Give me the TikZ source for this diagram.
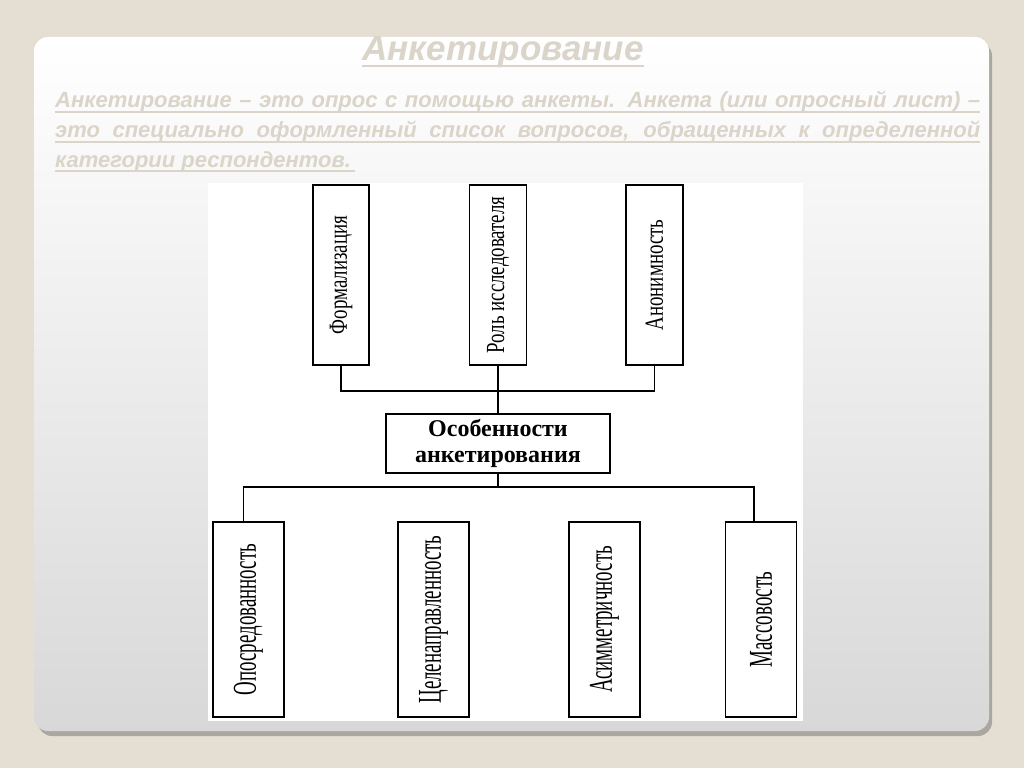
\documentclass[tikz,border=0pt]{standalone}
\usepackage{fontspec}
\setmainfont{Liberation Serif}
\newfontfamily\headfont{Liberation Sans}
\usetikzlibrary{calc}
\definecolor{bg}{HTML}{E5DED3}
\definecolor{panelshadow}{HTML}{A9A79F}
\definecolor{panelbot}{HTML}{D8D8D8}
\definecolor{panelmid}{HTML}{EFEFEF}
\definecolor{ghost}{HTML}{DAD4C9}
\tikzset{
  box/.style={draw=black, line width=1.3pt, fill=white, inner sep=0pt, font=\fontsize{18}{18}\selectfont},
  conn/.style={draw=black, line width=1.3pt},
  ul/.style={draw=ghost, line width=2pt},
}
\newcommand{\vlab}[2]{\rotatebox{90}{\scalebox{1.05}[#1]{#2}}}
\begin{document}
\begin{tikzpicture}[x=1pt,y=-1pt]
\useasboundingbox (0,0) rectangle (1024,768);
\fill[bg] (0,0) rectangle (1024,768);
\fill[panelshadow, rounded corners=14pt] (38,42) rectangle (992,736);
\shade[rounded corners=14pt, top color=white, middle color=panelmid, bottom color=panelbot] (34,37) rectangle (989,731);

% title
\node[anchor=base, inner sep=0pt, text=ghost, font=\headfont\bfseries\itshape\fontsize{35}{35}\selectfont] (title) at (503,60)
  {Анкетирование};
\draw[ul] ([yshift=-6pt]title.base west) -- ([yshift=-6pt]title.base east);

% body
\node[anchor=north west, inner sep=0pt, text width=925pt, align=justify, text=ghost, font=\headfont\bfseries\itshape\fontsize{22}{30}\selectfont] (body) at (55,91)
  {Анкетирование – это опрос с помощью анкеты. Анкета (или опросный лист) –\linebreak это специально оформленный список вопросов, обращенных к определенной\linebreak категории респондентов.};
\draw[ul] ($(body.north west)+(0,21)$) -- ($(body.north east)+(0,21)$);
\draw[ul] ($(body.north west)+(0,51)$) -- ($(body.north east)+(0,51)$);
\draw[ul] ($(body.north west)+(0,80)$) -- ($(body.north west)+(300,80)$);

% diagram area
\fill[white] (208,183) rectangle (803,721);

% top boxes
\node[box, minimum width=56, minimum height=180] (f) at (341,275) {\vlab{1.45}{Формализация}};
\node[box, minimum width=57, minimum height=180] (r) at (498,275) {\vlab{1.45}{Роль исследователя}};
\node[box, minimum width=57, minimum height=180] (a) at (654.5,275) {\vlab{1.45}{Анонимность}};

% centre
\node[box, minimum width=224, minimum height=59, align=center, font=\fontsize{24}{26}\selectfont\bfseries] (c) at (498,443.5) {Особенности\\анкетирования};

% bottom boxes
\node[box, minimum width=71, minimum height=195] (b1) at (248.5,619.5) {\vlab{1.85}{Опосредованность}};
\node[box, minimum width=71, minimum height=195] (b2) at (433.5,619.5) {\vlab{1.85}{Целенаправленность}};
\node[box, minimum width=71, minimum height=195] (b3) at (604.5,619.5) {\vlab{1.85}{Асимметричность}};
\node[box, minimum width=71, minimum height=195] (b4) at (761,619.5) {\vlab{1.85}{Массовость}};

% connectors
\coordinate (j1) at (498,391);
\coordinate (j2) at (498,487);
\draw[conn] (f.south) |- (j1) -| (a.south);
\draw[conn] (r.south) -- (c.north);
\draw[conn] (c.south) -- (j2);
\draw[conn] ($(b1.north)+(-5,0)$) |- (j2) -| ($(b4.north)+(-7,0)$);
\draw[conn] ($(b2.north)+(-5,0)$) -- ($(b2.north)+(-5,0)$ |- j2);
\draw[conn] ($(b3.north)+(7,0)$) -- ($(b3.north)+(7,0)$ |- j2);
\end{tikzpicture}
\end{document}
